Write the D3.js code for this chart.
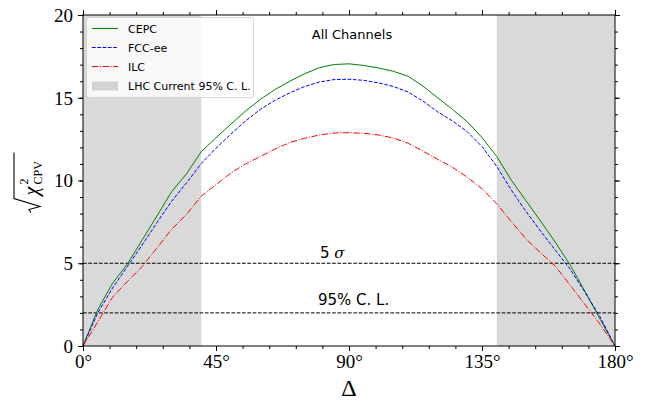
<!DOCTYPE html>
<html><head><meta charset="utf-8">
<script src="https://cdn.jsdelivr.net/npm/d3@7"></script>
<style>body{margin:0;background:#fff}svg{display:block}</style>
</head><body><svg id="c" width="645" height="406"></svg>
<script>
const delta = [0,5,10,15,20,25,30,35,40,45,50,55,60,65,70,75,80,85,90,95,100,105,110,115,120,125,130,135,140,145,150,155,160,165,170,175,180];
const cepc = [0,2.2,3.79,4.95,6.4,7.85,9.33,10.4,11.74,12.58,13.4,14.2,14.9,15.5,16.0,16.45,16.82,17.01,17.05,16.95,16.8,16.6,16.3,15.7,15.0,14.3,13.55,12.6,11.45,10.0,8.75,7.5,6.22,4.85,3.25,1.6,0];
const fcc  = [0,2.0,3.5,4.8,6.1,7.45,8.75,9.85,11.02,11.95,12.8,13.6,14.3,14.85,15.3,15.68,15.95,16.1,16.12,16.05,15.9,15.68,15.35,14.8,14.15,13.6,12.95,12.05,10.85,9.4,8.1,6.9,5.75,4.6,3.2,1.75,0];
const ilc  = [0,1.46,2.95,3.9,4.8,5.92,7.05,7.95,9.05,9.75,10.45,11.0,11.45,11.9,12.3,12.55,12.75,12.87,12.89,12.85,12.75,12.57,12.25,11.78,11.28,10.8,10.2,9.5,8.6,7.5,6.45,5.6,4.79,3.63,2.47,1.3,0];
const seriesNames = ["CEPC","FCC-ee","ILC"];
const lhcBands = [[0,40],[140,180]];
const refLines = [{v:5,label:"5 σ"},{v:2,label:"95% C. L."}];
const xTicks = [0,45,90,135,180];
const yTicks = [0,5,10,15,20];
const titleText = "All Channels";

const svg = d3.select("#c");
const L=83,R=615,T=15,B=346;
const x = d3.scaleLinear().domain([0,180]).range([L,R]);
const y = d3.scaleLinear().domain([0,20]).range([B,T]);

// shaded bands
svg.selectAll("rect.band").data(lhcBands).enter().append("rect")
  .attr("x",d=>x(d[0])).attr("width",d=>x(d[1])-x(d[0]))
  .attr("y",T).attr("height",B-T).attr("fill","#d9d9d9");

// ref lines
refLines.forEach(r=>{
  svg.append("line").attr("x1",L).attr("x2",R).attr("y1",y(r.v)).attr("y2",y(r.v))
    .attr("stroke","#000").attr("stroke-width",1).attr("stroke-dasharray","3.7,1.6");
});
svg.append("text").attr("x",320).attr("y",y(5)-5).attr("font-family","DejaVu Sans").attr("font-size",15)
  .html('5 <tspan font-family="DejaVu Serif" font-style="italic">σ</tspan>');
svg.append("text").attr("x",318).attr("y",y(2)-8).attr("font-family","DejaVu Sans").attr("font-size",15)
  .text(refLines[1].label);

const styles = [
  {data:cepc,color:"green",dash:null},
  {data:fcc,color:"blue",dash:"3.7,1.6"},
  {data:ilc,color:"red",dash:"6.4,1.6,1,1.6"}
];
const line = d3.line().x((d,i)=>x(delta[i])).y(d=>y(d));
styles.forEach(s=>{
  svg.append("path").attr("d",line(s.data)).attr("fill","none")
    .attr("stroke",s.color).attr("stroke-width",1)
    .attr("stroke-dasharray",s.dash);
});

// axes
const xMinor = d3.range(0,181,9), yMinor = d3.range(0,21,1);
function axisSet(gen, tr){ return svg.append("g").attr("transform",tr).call(gen); }
const bx = axisSet(d3.axisBottom(x).tickValues(xTicks).tickSize(5).tickFormat(d=>d+"°"),`translate(0,${B})`);
axisSet(d3.axisBottom(x).tickValues(xMinor).tickSize(3).tickFormat(""),`translate(0,${B})`);
axisSet(d3.axisTop(x).tickValues(xTicks).tickSize(5).tickFormat(""),`translate(0,${T})`);
axisSet(d3.axisTop(x).tickValues(xMinor).tickSize(3).tickFormat(""),`translate(0,${T})`);
const ly = axisSet(d3.axisLeft(y).tickValues(yTicks).tickSize(5),`translate(${L},0)`);
axisSet(d3.axisLeft(y).tickValues(yMinor).tickSize(3).tickFormat(""),`translate(${L},0)`);
axisSet(d3.axisRight(y).tickValues(yTicks).tickSize(5).tickFormat(""),`translate(${R},0)`);
axisSet(d3.axisRight(y).tickValues(yMinor).tickSize(3).tickFormat(""),`translate(${R},0)`);
svg.selectAll(".domain").remove();
svg.selectAll(".tick line").attr("stroke","#000").attr("stroke-width",1);
bx.selectAll("text").attr("font-family","Liberation Serif").attr("font-size",19).attr("fill","#000").attr("dy","0.9em").attr("y",5);
ly.selectAll("text").attr("font-family","Liberation Serif").attr("font-size",19).attr("fill","#000").attr("x",-10).attr("dy","0.33em");
svg.append("rect").attr("x",L).attr("y",T).attr("width",R-L).attr("height",B-T)
  .attr("fill","none").attr("stroke","#000").attr("stroke-width",1);

// x label
svg.append("text").attr("x",(L+R)/2).attr("y",396).attr("text-anchor","middle")
  .attr("font-family","Liberation Serif").attr("font-size",24).text("Δ");

// y label with radical
const yl = svg.append("g").attr("transform",`translate(38,${(T+B)/2}) rotate(-90)`);
yl.append("path").attr("d","M-32,-7 L-29,-9 L-26,2 L-18,-24 L28,-24").attr("fill","none").attr("stroke","#000").attr("stroke-width",1.1);
yl.append("text").attr("x",-15).attr("y",0).attr("font-family","Liberation Serif").attr("font-style","italic").attr("font-size",20).text("χ");
yl.append("text").attr("x",-4).attr("y",-10).attr("font-family","Liberation Serif").attr("font-size",12).text("2");
yl.append("text").attr("x",-4).attr("y",4).attr("font-family","Liberation Serif").attr("font-size",12).text("CPV");

// title
svg.append("text").attr("x",352).attr("y",39).attr("text-anchor","middle")
  .attr("font-family","DejaVu Sans").attr("font-size",13).text(titleText);

// legend
const lg = svg.append("g");
lg.append("rect").attr("x",86.5).attr("y",17.5).attr("width",167).attr("height",80).attr("rx",2)
  .attr("fill","#fff").attr("fill-opacity",0.8).attr("stroke","#cccccc").attr("stroke-width",1).attr("stroke-opacity",0.8);
const rows=[28.5,47.5,66.5,86];
styles.forEach((s,i)=>{
  lg.append("line").attr("x1",92).attr("x2",118).attr("y1",rows[i]).attr("y2",rows[i])
    .attr("stroke",s.color).attr("stroke-width",1).attr("stroke-dasharray",s.dash);
  lg.append("text").attr("x",128).attr("y",rows[i]+4).attr("font-family","DejaVu Sans").attr("font-size",11).text(seriesNames[i]);
});
lg.append("rect").attr("x",92).attr("y",81.5).attr("width",26).attr("height",9).attr("fill","#d3d3d3");
lg.append("text").attr("x",128).attr("y",rows[3]+4).attr("font-family","DejaVu Sans").attr("font-size",11).text("LHC Current 95% C. L.");
</script></body></html>
